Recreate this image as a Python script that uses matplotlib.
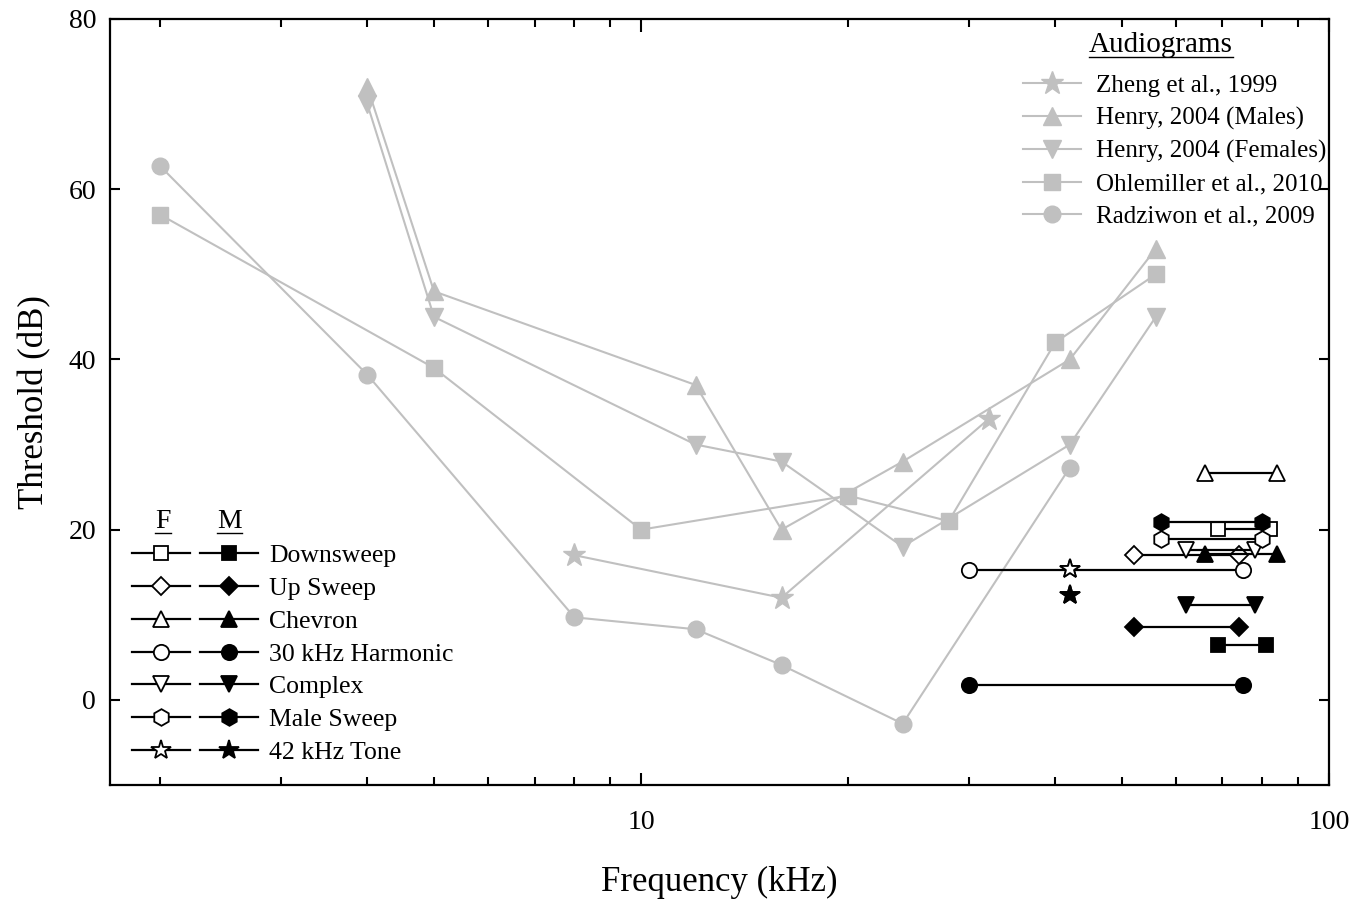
import matplotlib
matplotlib.use("Agg")
import matplotlib.pyplot as plt
from matplotlib.lines import Line2D
from matplotlib.legend_handler import HandlerTuple
from matplotlib.ticker import FixedLocator, NullFormatter, FixedFormatter

plt.rcParams['font.family'] = ['Liberation Serif', 'DejaVu Serif']

# audiogram data (kHz, dB)
zheng_f = [8, 16, 32]
zheng_db = [17, 12, 33]
henry_m_f = [4, 5, 12, 16, 24, 42, 56]
henry_m_db = [72, 48, 37, 20, 28, 40, 53]
henry_f_f = [4, 5, 12, 16, 24, 42, 56]
henry_f_db = [70, 45, 30, 28, 18, 30, 45]
ohle_f = [2, 5, 10, 20, 28, 40, 56]
ohle_db = [57, 39, 20, 24, 21, 42, 50]
radz_f = [2, 4, 8, 12, 16, 24, 42]
radz_db = [62.7, 38.2, 9.7, 8.3, 4.1, -2.8, 27.3]

# call types: frequency ranges and levels for females (F) and males (M)
calls = ['Downsweep', 'Up Sweep', 'Chevron', '30 kHz Harmonic', 'Complex', 'Male Sweep', '42 kHz Tone']
call_markers = ['s', 'D', '^', 'o', 'v', 'h', '*']
fem_lo = [69, 52, 66, 30, 62, 57, 42]
fem_hi = [82, 74, 84, 75, 78, 80, 42]
fem_db = [20.1, 17.0, 26.7, 15.3, 17.6, 18.9, 15.4]
male_lo = [69, 52, 66, 30, 62, 57, 42]
male_hi = [81, 74, 84, 75, 78, 80, 42]
male_db = [6.5, 8.6, 17.1, 1.7, 11.1, 20.9, 12.3]

gray = '#c0c0c0'
msize = {'s': 10, 'D': 9, '^': 11, 'o': 11, 'v': 11, 'h': 12, '*': 15}

fig = plt.figure(figsize=(13.69, 8.99), dpi=100)
ax = fig.add_axes([0.0803, 0.1268, 0.8905, 0.8521])

aud = [
    (zheng_f, zheng_db, '*', 17, 'Zheng et al., 1999'),
    (henry_m_f, henry_m_db, '^', 13, 'Henry, 2004 (Males)'),
    (henry_f_f, henry_f_db, 'v', 13, 'Henry, 2004 (Females)'),
    (ohle_f, ohle_db, 's', 12, 'Ohlemiller et al., 2010'),
    (radz_f, radz_db, 'o', 12, 'Radziwon et al., 2009'),
]
aud_handles = []
for f, db, m, ms, lab in aud:
    h, = ax.plot(f, db, color=gray, marker=m, markersize=ms, lw=1.5,
                 markeredgecolor=gray, label=lab)
    aud_handles.append(h)

call_handles = []
for i, name in enumerate(calls):
    m = call_markers[i]
    ms = msize[m]
    ax.plot([fem_lo[i], fem_hi[i]], [fem_db[i], fem_db[i]], color='black', lw=1.6,
            marker=m, markersize=ms, markerfacecolor='white', markeredgecolor='black',
            markeredgewidth=1.3, zorder=4)
    ax.plot([male_lo[i], male_hi[i]], [male_db[i], male_db[i]], color='black', lw=1.6,
            marker=m, markersize=ms, markerfacecolor='black', markeredgecolor='black',
            markeredgewidth=1.3, zorder=4)
    hf = Line2D([], [], color='black', lw=1.6, marker=m, markersize=ms,
                markerfacecolor='white', markeredgecolor='black', markeredgewidth=1.3)
    hm = Line2D([], [], color='black', lw=1.6, marker=m, markersize=ms,
                markerfacecolor='black', markeredgecolor='black', markeredgewidth=1.3)
    call_handles.append((hf, hm))

ax.set_xscale('log')
ax.set_xlim(1.69, 100)
ax.set_ylim(-10, 80)
ax.xaxis.set_major_locator(FixedLocator([10, 100]))
ax.xaxis.set_major_formatter(FixedFormatter(['10', '100']))
ax.xaxis.set_minor_locator(FixedLocator([2, 3, 4, 5, 6, 7, 8, 9, 20, 30, 40, 50, 60, 70, 80, 90]))
ax.xaxis.set_minor_formatter(NullFormatter())
ax.set_yticks([0, 20, 40, 60, 80])
ax.tick_params(which='both', direction='in', top=True, right=True, width=1.5, labelsize=20)
ax.tick_params(axis='x', which='major', length=9, pad=18)
ax.tick_params(axis='x', which='minor', length=6)
ax.tick_params(axis='y', which='major', length=7, pad=10)
for s in ax.spines.values():
    s.set_linewidth(1.6)

ax.set_xlabel('Frequency (kHz)', fontsize=25, labelpad=22)
ax.set_ylabel('Threshold (dB)', fontsize=25, labelpad=12)

leg1 = ax.legend(handles=aud_handles, loc='upper left', bbox_to_anchor=(0.749, 0.928),
                 frameon=False, fontsize=18, handlelength=2.3, handletextpad=0.6,
                 labelspacing=0.4, borderpad=0, borderaxespad=0, numpoints=1)
ax.add_artist(leg1)

leg2 = ax.legend(handles=call_handles, labels=calls, loc='upper left',
                 bbox_to_anchor=(0.018, 0.314), frameon=False, fontsize=18.5,
                 handler_map={tuple: HandlerTuple(ndivide=None, pad=0.4)},
                 handlelength=4.9, handletextpad=0.45, labelspacing=0.38,
                 borderpad=0, borderaxespad=0, numpoints=1)

t_aud = ax.text(0.862, 0.966, 'Audiograms', transform=ax.transAxes, fontsize=21,
                ha='center', va='center')
t_f = ax.text(0.0435, 0.344, 'F', transform=ax.transAxes, fontsize=20, ha='center', va='center')
t_m = ax.text(0.098, 0.344, 'M', transform=ax.transAxes, fontsize=20, ha='center', va='center')

# underline the headings
fig.canvas.draw()
inv = fig.transFigure.inverted()
for t in (t_aud, t_f, t_m):
    bb = t.get_window_extent()
    x0, y0 = inv.transform((bb.x0, bb.y0 + 1))
    x1, _ = inv.transform((bb.x1, bb.y0 + 1))
    fig.add_artist(Line2D([x0, x1], [y0, y0], color='black', lw=1.0, transform=fig.transFigure))

fig.savefig('out.png', dpi=100)
